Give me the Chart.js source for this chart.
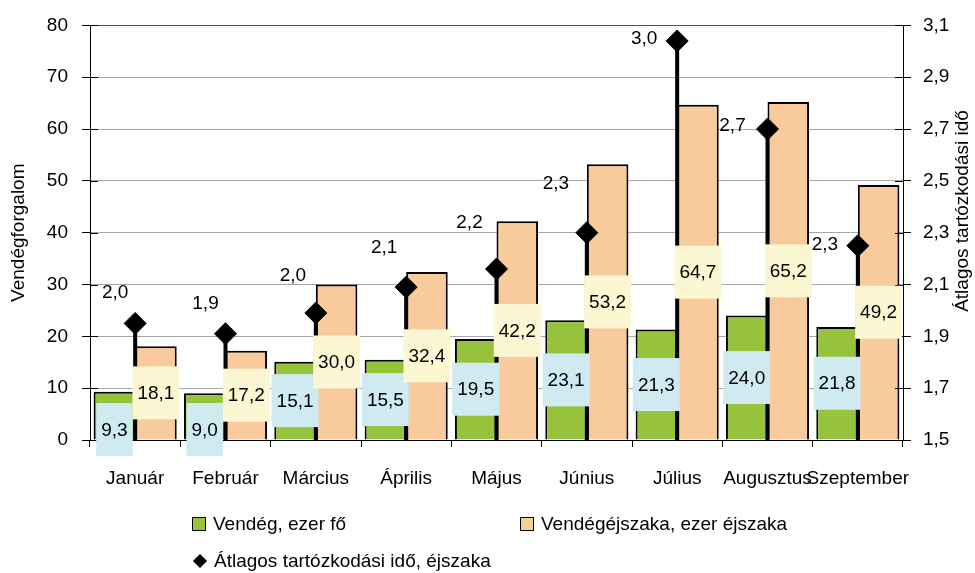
<!DOCTYPE html>
<html lang="hu">
<head>
<meta charset="UTF-8">
<title>Vendégforgalom</title>
<script src="https://cdn.jsdelivr.net/npm/chart.js"></script>
<style>
  html, body { margin: 0; padding: 0; background: #fff; }
  .wrap { position: relative; width: 975px; height: 573px; }
  canvas { display: block; }
  .legend-item {
    position: absolute; white-space: nowrap; display: flex; align-items: center;
    font: 19px "Liberation Sans", Arial, sans-serif; color: #000; height: 22px;
  }
  .box { width: 12px; height: 12px; border: 1px solid #000; margin-right: 7px; }
  .diamond { width: 10px; height: 10px; background: #000; transform: rotate(45deg); margin: 0 9px 0 3px; }
</style>
</head>
<body>
<div class="wrap">
  <canvas id="myChart" width="975" height="573"></canvas>
  <div id="legend"></div>
</div>

<script>
  // data
  var months = ['Január', 'Február', 'Március', 'Április', 'Május', 'Június', 'Július', 'Augusztus', 'Szeptember'];
  var guests = [9.3, 9.0, 15.1, 15.5, 19.5, 23.1, 21.3, 24.0, 21.8];        // Vendég, ezer fő
  var guestNights = [18.1, 17.2, 30.0, 32.4, 42.2, 53.2, 64.7, 65.2, 49.2];  // Vendégéjszaka, ezer éjszaka
  var avgStay = [1.95, 1.91, 1.99, 2.09, 2.16, 2.30, 3.04, 2.70, 2.25];       // Átlagos tartózkodási idő
  var leftTicks = [0, 80, 10];
  var rightTicks = [1.5, 3.1, 0.2];

  var FONT = '"Liberation Sans", Arial, sans-serif';
  Chart.defaults.font.family = FONT;
  Chart.defaults.font.size = 19;
  Chart.defaults.color = '#000';

  function fmt(v) {
    return (Math.round(v * 10 + 1e-6) / 10).toFixed(1).replace('.', ',');
  }

  // where the little avg-stay labels sit relative to their diamond
  var stayLabelOffsets = [[-20, -31], [-20, -30], [-23, -37], [-22, -39], [-27, -46], [-31, -49], [-33, -2], [-35, -3], [-33, -1]];

  var dropLines = {
    id: 'dropLines',
    beforeDatasetDraw: function(chart, args) {
      if (args.index !== 2) return;
      var ctx = chart.ctx;
      var bottom = chart.chartArea.bottom;
      ctx.save();
      ctx.strokeStyle = '#000';
      ctx.lineWidth = 4;
      args.meta.data.forEach(function(pt) {
        ctx.beginPath();
        ctx.moveTo(pt.x, pt.y);
        ctx.lineTo(pt.x, bottom);
        ctx.stroke();
      });
      ctx.restore();
    }
  };

  var extras = {
    id: 'extras',
    afterDraw: function(chart) {
      var ctx = chart.ctx;
      var area = chart.chartArea;
      ctx.save();

      // inner half of the axis tick marks
      ctx.strokeStyle = '#000';
      ctx.lineWidth = 1;
      var yl = chart.scales.y, yr = chart.scales.y2;
      yl.ticks.forEach(function(t, i) {
        var py = Math.round(yl.getPixelForTick(i)) + 0.5;
        ctx.beginPath(); ctx.moveTo(area.left, py); ctx.lineTo(area.left + 8, py); ctx.stroke();
      });
      yr.ticks.forEach(function(t, i) {
        var py = Math.round(yr.getPixelForTick(i)) + 0.5;
        ctx.beginPath(); ctx.moveTo(area.right - 8, py); ctx.lineTo(area.right, py); ctx.stroke();
      });

      // value boxes on the bars
      ctx.font = '19px ' + FONT;
      ctx.textAlign = 'center';
      ctx.textBaseline = 'middle';
      var fills = ['#cfeaf1', '#fbf7d2'];
      [0, 1].forEach(function(di) {
        var meta = chart.getDatasetMeta(di);
        var vals = chart.data.datasets[di].data;
        meta.data.forEach(function(bar, i) {
          var txt = fmt(vals[i]);
          var h = 53;
          var cy = (bar.y + bar.base) / 2;
          if (bar.base - bar.y < h) cy = bar.base - 10;   // short bars: box hangs below
          var w = ctx.measureText(txt).width + 10;
          ctx.fillStyle = fills[di];
          ctx.fillRect(bar.x - w / 2, cy - h / 2, w, h);
          ctx.fillStyle = '#000';
          ctx.fillText(txt, bar.x, cy + 1);
        });
      });

      // labels next to the diamonds
      var lm = chart.getDatasetMeta(2);
      lm.data.forEach(function(pt, i) {
        var off = stayLabelOffsets[i];
        ctx.fillText(fmt(avgStay[i]), pt.x + off[0], pt.y + off[1]);
      });

      // right axis title, reading bottom to top
      ctx.translate(963, 211);
      ctx.rotate(-Math.PI / 2);
      ctx.fillText('Átlagos tartózkodási idő', 0, 0);
      ctx.restore();
    }
  };

  var ctx = document.getElementById('myChart').getContext('2d');
  var myChart = new Chart(ctx, {
    data: {
      labels: months,
      datasets: [
        {
          type: 'bar',
          label: 'Vendég, ezer fő',
          data: guests,
          backgroundColor: '#97c23c',
          borderColor: '#000',
          borderWidth: 2,
          yAxisID: 'y',
          order: 1,
          categoryPercentage: 0.92,
          barPercentage: 1.0
        },
        {
          type: 'bar',
          label: 'Vendégéjszaka, ezer éjszaka',
          data: guestNights,
          backgroundColor: '#f9ca9b',
          borderColor: '#000',
          borderWidth: 2,
          yAxisID: 'y',
          order: 1,
          categoryPercentage: 0.92,
          barPercentage: 1.0
        },
        {
          type: 'line',
          label: 'Átlagos tartózkodási idő, éjszaka',
          data: avgStay,
          yAxisID: 'y2',
          showLine: false,
          pointStyle: 'rectRot',
          pointRadius: 11,
          pointBackgroundColor: '#000',
          pointBorderColor: '#000',
          order: 0
        }
      ]
    },
    options: {
      responsive: false,
      animation: false,
      layout: { padding: { top: 25, left: 0, right: 0, bottom: 0 } },
      plugins: {
        legend: { display: false },
        tooltip: { enabled: false }
      },
      scales: {
        x: {
          grid: { offset: true, drawOnChartArea: false, tickLength: 7, tickColor: '#000' },
          border: { color: '#000', width: 1 },
          ticks: { padding: 20, maxRotation: 0, autoSkip: false },
          afterFit: function(s) { s.height = 133; }
        },
        y: {
          position: 'left',
          min: leftTicks[0], max: leftTicks[1],
          ticks: { stepSize: leftTicks[2], padding: 14 },
          grid: {
            color: function(c) { return c.tick && c.tick.value === leftTicks[1] ? '#555' : '#a6a6a6'; },
            tickLength: 8, tickColor: '#000'
          },
          border: { color: '#000', width: 1 },
          title: { display: true, text: 'Vendégforgalom', padding: { top: 7, bottom: 0 } },
          afterFit: function(s) { s.width = 90; }
        },
        y2: {
          position: 'right',
          min: rightTicks[0], max: rightTicks[1],
          ticks: {
            stepSize: rightTicks[2], padding: 12,
            callback: function(v) { return v.toFixed(1).replace('.', ','); }
          },
          grid: { drawOnChartArea: false, tickLength: 8, tickColor: '#000' },
          border: { color: '#000', width: 1 },
          afterFit: function(s) { s.width = 72; }
        }
      }
    },
    plugins: [dropLines, extras]
  });

  // legend in two columns like the original
  var legendPos = [[192, 513], [520, 513], [192, 550]];
  var legendEl = document.getElementById('legend');
  myChart.data.datasets.forEach(function(ds, i) {
    var item = document.createElement('div');
    item.className = 'legend-item';
    item.style.left = legendPos[i][0] + 'px';
    item.style.top = legendPos[i][1] + 'px';
    var mark = document.createElement('span');
    if (ds.type === 'line') {
      mark.className = 'diamond';
    } else {
      mark.className = 'box';
      mark.style.background = ds.backgroundColor;
    }
    item.appendChild(mark);
    item.appendChild(document.createTextNode(ds.label));
    legendEl.appendChild(item);
  });
</script>
</body>
</html>
